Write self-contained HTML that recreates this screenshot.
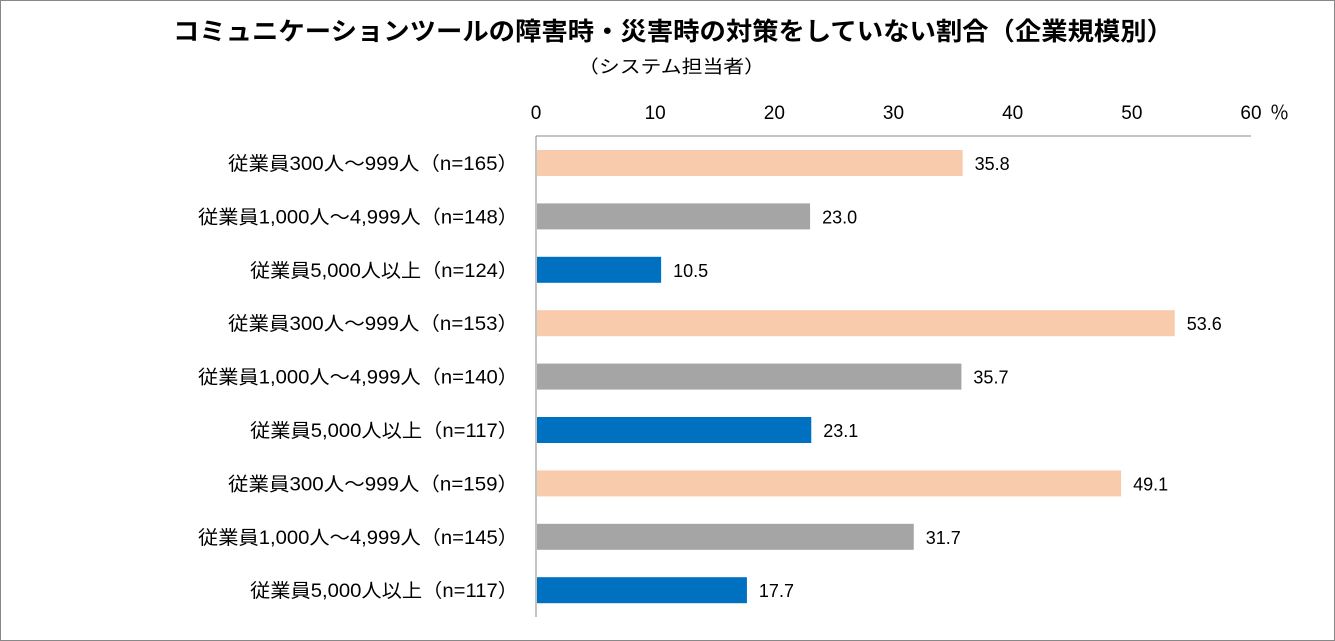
<!DOCTYPE html>
<html><head><meta charset="utf-8"><style>
body{margin:0;background:#fff;}
svg{display:block;font-family:"Liberation Sans","Noto Sans CJK JP",sans-serif;}
</style></head><body>
<svg id="chart" width="1335" height="641">
<rect x="0.5" y="0.5" width="1334" height="640" fill="#fff" stroke="#888"/>
<text x="173" y="40" font-size="25" font-weight="bold" fill="#000" textLength="1000" lengthAdjust="spacingAndGlyphs">コミュニケーションツールの障害時・災害時の対策をしていない割合（企業規模別）</text>
<text x="578" y="73" font-size="18" fill="#000" textLength="187" lengthAdjust="spacingAndGlyphs">（システム担当者）</text>
<g id="axis"></g><g id="bars"></g>
</svg>
<script>
const categories=["従業員300人～999人（n=165）","従業員1,000人～4,999人（n=148）","従業員5,000人以上（n=124）","従業員300人～999人（n=153）","従業員1,000人～4,999人（n=140）","従業員5,000人以上（n=117）","従業員300人～999人（n=159）","従業員1,000人～4,999人（n=145）","従業員5,000人以上（n=117）"];
const values=[35.8,23.0,10.5,53.6,35.7,23.1,49.1,31.7,17.7];
const ticks=[0,10,20,30,40,50,60];
const colors=["#f8cbad","#a5a5a5","#0070c0"];
const NS="http://www.w3.org/2000/svg";
const x0=536,x1=1251,yTop=136,yStep=53.4,yFirst=163,bh=26;
function xs(v){return x0+(x1-x0)*v/60;}
function ys(i){return yFirst+i*yStep;}
function mk(t,a,p){const e=document.createElementNS(NS,t);for(const k in a)e.setAttribute(k,a[k]);p.appendChild(e);return e;}
const ax=document.getElementById('axis'),bg=document.getElementById('bars');
let l=mk('line',{x1:x0,y1:yTop,x2:x1,y2:yTop,stroke:'#898989','stroke-width':1},ax);


l=mk('line',{x1:x0,y1:yTop,x2:x0,y2:617,stroke:'#898989','stroke-width':1},ax);


ticks.forEach(t=>{const e=mk('text',{x:xs(t),y:119,'text-anchor':'middle','font-size':19},ax);e.textContent=t;

});
let u=mk('text',{x:1270,y:119,'font-size':19},ax);u.textContent='％';


categories.forEach((c,i)=>{const y=ys(i);
const w=c.indexOf('1,000')>=0?320:(c.indexOf('300')>=0?290:268);
const t=mk('text',{x:518-w,y:y+7,'font-size':19,textLength:w,lengthAdjust:'spacingAndGlyphs'},bg);t.textContent=c;


const r=mk('rect',{x:x0+1,y:y-bh/2,width:xs(values[i])-x0-1,height:bh,fill:colors[i%3]},bg);


const v=mk('text',{x:xs(values[i])+12,y:y+7,'font-size':18},bg);v.textContent=values[i].toFixed(1);

});
</script>
</body></html>
